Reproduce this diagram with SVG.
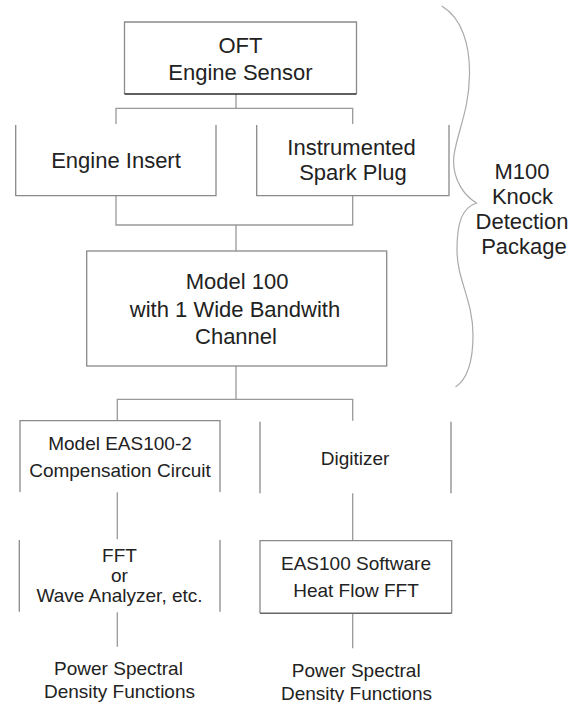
<svg xmlns="http://www.w3.org/2000/svg" width="581" height="702" viewBox="0 0 581 702">
<style>
  .bx { fill: none; stroke: #8a8a8a; stroke-width: 1.3; }
  .dk { fill: none; stroke: #2a2a2a; stroke-width: 1.4; }
  .md { fill: none; stroke: #666; stroke-width: 1.4; }
  .cn { fill: none; stroke: #999; stroke-width: 1.3; }
  .br { fill: none; stroke: #aaa; stroke-width: 1.2; }
  .t22 { font-family: "Liberation Sans", Arial, sans-serif; font-size: 22px; fill: #222; text-anchor: middle; }
  .t19 { font-family: "Liberation Sans", Arial, sans-serif; font-size: 19px; fill: #222; text-anchor: middle; }
</style>
<rect width="581" height="702" fill="#fff"/>

<g id="connectors">
  <path class="cn" d="M236,94 V108.3 M116,124 V108.3 H352.7 V124"/>
  <path class="cn" d="M116,196 V225 H352.7 V196 M236,225 V251"/>
  <path class="cn" d="M236,366 V399.3 M117.3,420.7 V399.3 H352.7 V420.7"/>
  <path class="cn" d="M117.3,492.3 V539.3"/>
  <path class="cn" d="M117.3,612.3 V646.7"/>
  <path class="cn" d="M352.7,493.3 V540.7"/>
  <path class="cn" d="M352.7,613.3 V648.3"/>
</g>

<g id="oft">
  <path class="bx" d="M124.5,94 V22 H356.5 V94"/>
  <path class="dk" d="M124.5,94 H356.5"/>
  <text class="t22" x="240.5" y="53.3">OFT</text>
  <text class="t22" x="240.5" y="80">Engine Sensor</text>
</g>

<g id="engine-insert">
  <path class="bx" d="M15.7,125 V195.7 H216 V125"/>
  <text class="t22" x="116" y="168.3">Engine Insert</text>
</g>

<g id="spark-plug">
  <path class="bx" d="M256.7,125 V195.7 H449 V125"/>
  <text class="t22" x="351.5" y="155">Instrumented</text>
  <text class="t22" x="353" y="180">Spark Plug</text>
</g>

<g id="model100">
  <rect class="bx" x="86.7" y="251" width="300" height="115"/>
  <text class="t22" x="237" y="289.3">Model 100</text>
  <text class="t22" x="235" y="316.7">with 1 Wide Bandwith</text>
  <text class="t22" x="236" y="344">Channel</text>
</g>

<g id="eas100-2">
  <path class="bx" d="M20,492 V420.7 H220 V492"/>
  <text class="t19" x="120" y="450">Model EAS100-2</text>
  <text class="t19" x="120" y="476.5">Compensation Circuit</text>
</g>

<g id="digitizer">
  <path class="bx" d="M260,421.7 V493.3 M451,421.7 V493.3"/>
  <text class="t19" x="355" y="465">Digitizer</text>
</g>

<g id="fft">
  <path class="bx" d="M19.3,540 V611.7 M220,540 V611.7"/>
  <text class="t19" x="119.5" y="561.5">FFT</text>
  <text class="t19" x="119.5" y="581.5">or</text>
  <text class="t19" x="119.5" y="601.5">Wave Analyzer, etc.</text>
</g>

<g id="eas100-software">
  <path class="bx" d="M260,613.3 V540.7 H451.7 V613.3"/>
  <path class="md" d="M260,613.3 H451.7"/>
  <text class="t19" x="356" y="570">EAS100 Software</text>
  <text class="t19" x="356" y="596.5">Heat Flow FFT</text>
</g>

<g id="psd-left">
  <text class="t19" x="118.5" y="675">Power Spectral</text>
  <text class="t19" x="119.5" y="698">Density Functions</text>
</g>

<g id="psd-right">
  <text class="t19" x="356.2" y="677">Power Spectral</text>
  <text class="t19" x="356.5" y="699.5">Density Functions</text>
</g>

<g id="m100-package">
  <path class="br" d="M441.7,6 C462,18 470,45 469.5,75 C469,110 458,130 454,155 C451,180 466,197 476.5,203 C462,208 457,222 457,250 C457,280 473,300 473,335 C473,365 466,380 455.5,387"/>
  <text class="t22" x="522" y="178.5">M100</text>
  <text class="t22" x="522.5" y="203.5">Knock</text>
  <text class="t22" x="522" y="229">Detection</text>
  <text class="t22" x="524" y="253.5">Package</text>
</g>
</svg>
